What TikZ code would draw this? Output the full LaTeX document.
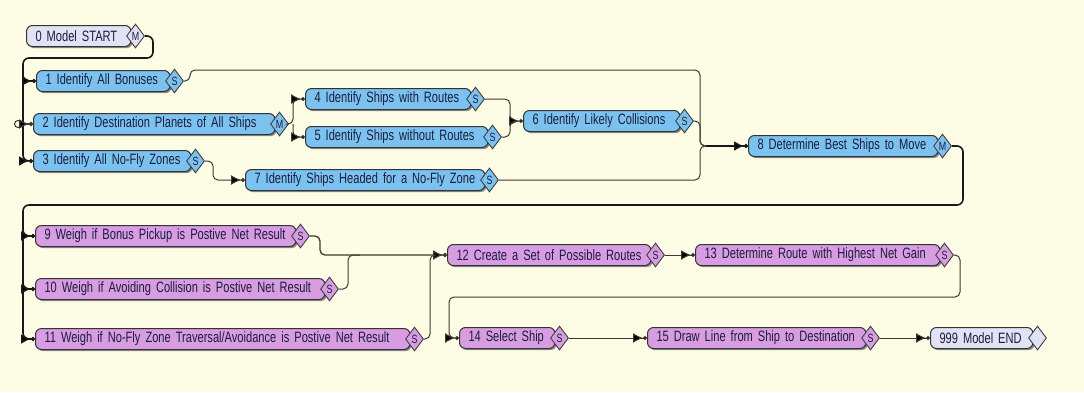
\documentclass[tikz,border=0pt]{standalone}
\usepackage{fontspec}
\setmainfont{Liberation Sans}[FakeStretch=0.74]
\usetikzlibrary{shapes.geometric,arrows.meta,shadows}
\definecolor{bg}{RGB}{253,252,228}
\definecolor{blu}{RGB}{124,194,240}
\definecolor{pnk}{RGB}{216,156,226}
\definecolor{lav}{RGB}{226,226,246}
\definecolor{txt}{RGB}{26,30,58}
\definecolor{ln}{RGB}{58,58,48}
\newcommand\fnode[7]{%
  \pgfmathsetmacro\fnw{#4-6-18}%
  \pgfmathsetmacro\fnb{#4-6}%
  \node[box, fill=#5, minimum width=\fnb pt, text width=\fnw pt] (#1) at (#2,#3) {#6};
  \node[dia, fill=#5] (#1d) at ([xshift=4pt]#1.east) {#7};
}
\begin{document}
\begin{tikzpicture}[x=1pt,y=-1pt,
  box/.style={rounded corners=6pt, draw=black!80, line width=1pt, minimum height=21pt,
    inner xsep=9pt, inner ysep=0pt, anchor=west, align=left, text=txt,
    font=\fontsize{15}{17}\selectfont,
    drop shadow={shadow xshift=1.6pt, shadow yshift=-1.6pt, fill=black!45, opacity=1}},
  dia/.style={diamond, draw=black!75, line width=0.9pt, minimum width=18pt, minimum height=24pt,
    inner sep=0pt, text=txt, font=\fontsize{12}{12}\selectfont},
  tip/.style={-{Latex[length=10pt,width=10pt,fill=black]Circle[length=4pt,fill=black]}},
  conn/.style={draw=ln, line width=1pt, rounded corners=5pt},
  main/.style={draw=black!90, line width=1.6pt, rounded corners=6pt},
]
\useasboundingbox[fill=bg] (0,0) rectangle (1084,392);

\fnode{n0}{26}{36}{110.5}{lav}{0 Model START}{M}
\fnode{n1}{36}{81}{139.5}{blu}{1 Identify All Bonuses}{S}
\fnode{n2}{33}{124}{247.5}{blu}{2 Identify Destination Planets of All Ships}{M}
\fnode{n3}{33}{161}{163.5}{blu}{3 Identify All No-Fly Zones}{S}
\fnode{n4}{305}{99}{171.5}{blu}{4 Identify Ships with Routes}{S}
\fnode{n5}{305}{137}{188.5}{blu}{5 Identify Ships without Routes}{S}
\fnode{n6}{523}{121}{162.5}{blu}{6 Identify Likely Collisions}{S}
\fnode{n7}{245}{180}{245.5}{blu}{7 Identify Ships Headed for a No-Fly Zone}{S}
\fnode{n8}{748}{146}{195.5}{blu}{8 Determine Best Ships to Move}{M}
\fnode{n9}{35}{236}{266.5}{pnk}{9 Weigh if Bonus Pickup is Postive Net Result}{S}
\fnode{n10}{35}{289}{295.5}{pnk}{10 Weigh if Avoiding Collision is Postive Net Result}{S}
\fnode{n11}{35}{339}{380.5}{pnk}{11 Weigh if No-Fly Zone Traversal/Avoidance is Postive Net Result}{S}
\fnode{n12}{447}{255}{209.5}{pnk}{12 Create a Set of Possible Routes}{S}
\fnode{n13}{695}{255}{250.5}{pnk}{13 Determine Route with Highest Net Gain}{S}
\fnode{n14}{459}{338}{101.5}{pnk}{14 Select Ship}{S}
\fnode{n15}{647}{338}{224.5}{pnk}{15 Draw Line from Ship to Destination}{S}
\fnode{n999}{930}{338}{108.5}{lav}{999 Model END}{}

\node[circle, draw=black!85, line width=0.9pt, fill=bg, inner sep=0pt, minimum size=7pt] (c2) at (18,124) {};

% start -> 1,2,3
\draw[main,tip] (n0d.east) -- (153,36) -- (153,58) -- (23,58) -- (23,161) -- (n3.west);
\draw[main,tip] (23,70) -- (23,81) -- (n1.west);
\draw[conn,line width=1.3pt,tip] (c2.east) -- (n2.west);
% 1 -> 8
\draw[conn] (n1d.east) -- (190,81) -- (190,70) -- (700,70) -- (700,146) -- (720,146);
% 2 -> 4, 5
\draw[conn,tip] (n2d.east) -- (293,124) -- (293,99) -- (n4.west);
\draw[conn,tip] (293,124) -- (293,137) -- (n5.west);
% 4,5 -> 6
\draw[conn,tip] (n4d.east) -- (510,99) -- (510,121) -- (n6.west);
\draw[conn] (n5d.east) -- (510,137) -- (510,121) -- (515,121);
% 3 -> 7
\draw[conn,tip] (n3d.east) -- (213,161) -- (213,180) -- (n7.west);
% 6,7 -> 8
\draw[conn] (n6d.east) -- (700,121) -- (700,146) -- (720,146);
\draw[conn] (n7d.east) -- (700,180) -- (700,146) -- (720,146);
\draw[main,tip] (706,146) -- (n8.west);
% 8 -> 9,10,11
\draw[main,tip] (n8d.east) -- (963,146) -- (963,205) -- (23,205) -- (23,339) -- (n11.west);
\draw[main,tip] (23,270) -- (23,289) -- (n10.west);
\draw[main,tip] (23,220) -- (23,236) -- (n9.west);
% 9,10,11 -> 12
\draw[conn,line width=1.3pt,tip] (n9d.east) -- (320,236) -- (320,255) -- (n12.west);
\draw[conn] (n10d.east) -- (348,289) -- (348,255) -- (360,255);
\draw[conn] (n11d.east) -- (430,339) -- (430,255) -- (436,255);
% 12 -> 13 -> 14 -> 15 -> 999
\draw[conn,tip] (n12d.east) -- (n13.west);
\draw[conn,tip] (n13d.east) -- (960,255) -- (960,297) -- (449,297) -- (449,338) -- (n14.west);
\draw[conn,tip] (n14d.east) -- (n15.west);
\draw[conn,tip] (n15d.east) -- (n999.west);
\end{tikzpicture}
\end{document}
